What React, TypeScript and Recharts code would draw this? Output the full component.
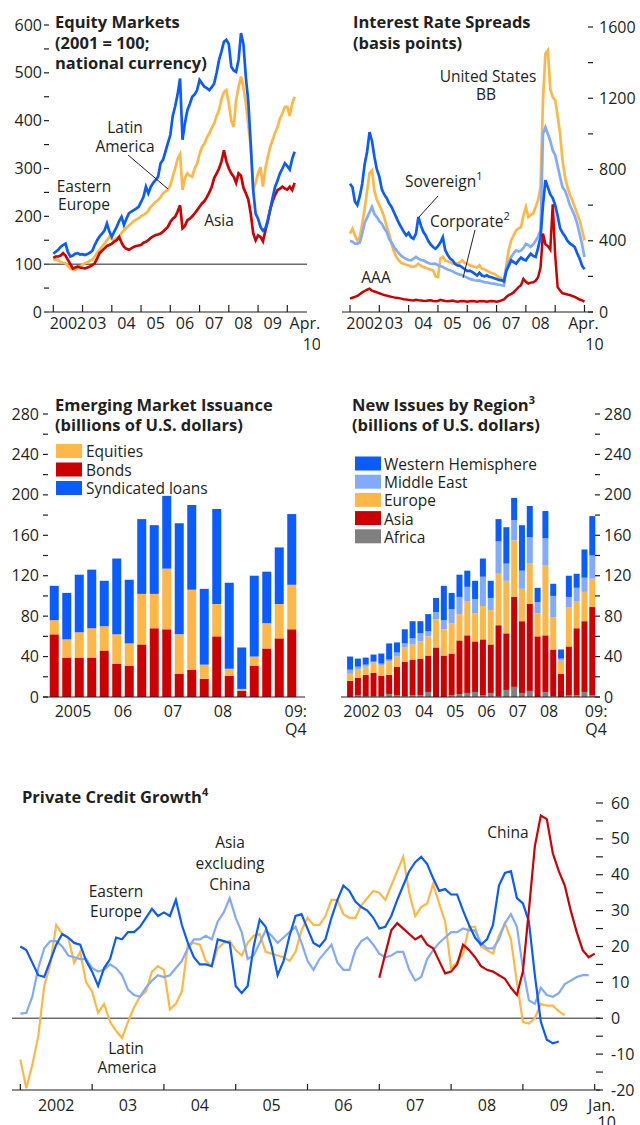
import React from 'react'
import { LineChart, Line, BarChart, Bar, XAxis, YAxis, ReferenceLine } from 'recharts'

const BLUE = '#0a5cff'
const LIGHT_BLUE = '#82abff'
const ORANGE = '#ffb847'
const RED = '#cc0000'
const GRAY = '#808080'
const INK = '#231f20'
const FONT = '"Open Sans", sans-serif'

// Equity markets, monthly from Jan. 2002 (2001 = 100; national currency)
const equityEasternEurope = [
  122, 126, 130, 136, 140, 143, 125, 116, 118, 122,
  123, 120, 121, 119, 121, 124, 128, 140, 150, 158,
  164, 170, 185, 168, 157, 168, 178, 190, 199, 182,
  195, 206, 210, 213, 216, 220, 230, 241, 262, 248,
  262, 270, 276, 283, 311, 318, 335, 353, 370, 410,
  430, 455, 488, 360, 395, 422, 435, 450, 455, 464,
  485, 478, 471, 468, 464, 470, 478, 500, 527, 545,
  565, 569, 560, 513, 505, 502, 527, 583, 560, 490,
  440, 350, 255, 205, 195, 178, 170, 175, 192, 215,
  240, 262, 275, 290, 300, 311, 305, 298, 320, 335,
]
const equityLatinAmerica = [
  108, 110, 108, 105, 103, 102, 96, 91, 89, 88,
  92, 95, 99, 102, 104, 107, 109, 116, 124, 130,
  137, 143, 150, 157, 152, 150, 155, 157, 165, 171,
  176, 181, 185, 190, 193, 196, 200, 203, 206, 212,
  220, 225, 230, 234, 240, 248, 252, 255, 265, 283,
  300, 320, 330, 255, 280, 290, 285, 283, 300, 310,
  330, 345, 352, 365, 373, 385, 394, 410, 422, 445,
  460, 464, 436, 400, 387, 443, 470, 492, 470, 436,
  390, 345, 255, 270, 290, 303, 262, 300, 324, 345,
  360, 375, 387, 405, 415, 429, 429, 410, 436, 450,
]
const equityAsia = [
  113, 116, 116, 118, 123, 118, 109, 100, 91, 93,
  95, 93, 92, 91, 93, 95, 98, 102, 112, 123,
  128, 133, 138, 140, 143, 147, 150, 157, 145, 136,
  132, 130, 133, 136, 138, 139, 140, 145, 147, 150,
  155, 158, 161, 162, 164, 168, 173, 178, 188, 195,
  199, 210, 223, 175, 180, 192, 195, 200, 206, 213,
  220, 227, 232, 240, 250, 262, 280, 290, 300, 315,
  338, 315, 300, 290, 283, 270, 290, 285, 260, 248,
  235, 206, 165, 150, 160, 157, 148, 170, 190, 215,
  232, 245, 255, 258, 262, 258, 256, 262, 255, 270,
]
const equityYearLabels = ['2002', '03', '04', '05', '06', '07', '08', '09']
const equityYTicks = [0, 50, 100, 150, 200, 250, 300, 350, 400, 450, 500, 550, 600]

// Interest rate spreads, monthly from Jan. 2002 (basis points)
const spreadSovereign = [
  720, 700, 620, 600, 650, 720, 830, 900, 1010, 960,
  870, 800, 760, 690, 660, 640, 610, 590, 560, 530,
  500, 475, 450, 430, 445, 420, 411, 440, 533, 486,
  450, 430, 400, 380, 365, 355, 370, 390, 420, 346,
  320, 300, 290, 270, 262, 260, 250, 240, 230, 232,
  225, 215, 205, 220, 205, 200, 206, 198, 195, 190,
  185, 180, 178, 172, 230, 260, 290, 280, 271, 290,
  305, 295, 290, 310, 327, 315, 309, 360, 420, 600,
  740, 700, 660, 640, 600, 540, 470, 445, 425, 400,
  385, 375, 365, 330, 300, 260, 240,
]
const spreadCorporate = [
  400, 395, 384, 384, 390, 440, 500, 530, 560, 590,
  550, 533, 510, 496, 470, 450, 410, 390, 365, 346,
  330, 315, 305, 298, 292, 290, 300, 309, 300, 292,
  290, 282, 275, 271, 270, 271, 262, 258, 253, 245,
  238, 234, 228, 220, 215, 210, 206, 200, 192, 186,
  182, 178, 176, 178, 172, 168, 166, 163, 160, 159,
  156, 153, 150, 148, 250, 280, 309, 330, 346, 340,
  346, 360, 383, 375, 365, 380, 400, 421, 458, 1000,
  1038, 1000, 960, 907, 880, 820, 758, 700, 683, 645,
  600, 571, 540, 496, 440, 380, 309,
]
const spreadBB = [
  440, 468, 430, 402, 420, 496, 580, 680, 780, 795,
  680, 630, 600, 571, 533, 480, 440, 383, 340, 309,
  290, 275, 271, 265, 262, 255, 253, 260, 271, 260,
  253, 248, 243, 238, 234, 200, 196, 300, 309, 290,
  285, 280, 271, 275, 271, 280, 290, 275, 271, 262,
  258, 253, 250, 262, 243, 240, 232, 225, 218, 215,
  205, 195, 187, 178, 260, 350, 402, 430, 458, 470,
  477, 540, 589, 533, 545, 552, 590, 627, 702, 1188,
  1450, 1469, 1250, 1207, 1190, 1100, 1001, 851, 760, 702,
  660, 627, 590, 552, 515, 460, 402,
]
const spreadAAA = [
  75, 80, 85, 90, 100, 110, 118, 125, 131, 120,
  115, 110, 105, 100, 95, 92, 88, 85, 82, 80,
  78, 75, 72, 70, 68, 66, 65, 68, 66, 65,
  63, 62, 64, 66, 62, 60, 62, 68, 65, 62,
  60, 62, 64, 60, 58, 60, 62, 60, 58, 60,
  62, 60, 58, 60, 62, 60, 58, 60, 62, 60,
  58, 60, 65, 70, 84, 95, 102, 110, 125, 140,
  150, 186, 170, 160, 165, 167, 175, 195, 250, 440,
  380, 370, 350, 605, 320, 140, 121, 105, 102, 98,
  95, 90, 85, 78, 70, 65, 58,
]
const spreadYearLabels = ['2002', '03', '04', '05', '06', '07', '08']
const spreadYTicks = [0, 200, 400, 600, 800, 1000, 1200, 1400, 1600]

// Emerging market issuance, quarterly (billions of U.S. dollars)
const issuanceQuarters = [
  '2005:Q1', '2005:Q2', '2005:Q3', '2005:Q4',
  '2006:Q1', '2006:Q2', '2006:Q3', '2006:Q4',
  '2007:Q1', '2007:Q2', '2007:Q3', '2007:Q4',
  '2008:Q1', '2008:Q2', '2008:Q3', '2008:Q4',
  '2009:Q1', '2009:Q2', '2009:Q3', '2009:Q4',
]
const issuanceBonds = [62, 39, 39, 39, 46, 33, 31, 52, 68, 67, 23, 27, 18, 60, 21, 6, 31, 48, 58, 67]
const issuanceEquities = [14, 18, 25, 29, 24, 29, 22, 50, 34, 60, 39, 79, 14, 32, 7, 2, 9, 25, 34, 44]
const issuanceLoans = [34, 46, 57, 58, 45, 75, 63, 74, 68, 72, 110, 84, 75, 94, 85, 41, 80, 51, 56, 70]
const issuanceYearLabels: Record<string, string> = {
  '2005:Q2': '2005', '2006:Q2': '06', '2007:Q2': '07', '2008:Q2': '08',
}

// New issues by region, quarterly (billions of U.S. dollars)
const regionQuarters = [
  '2002:Q1', '2002:Q2', '2002:Q3', '2002:Q4',
  '2003:Q1', '2003:Q2', '2003:Q3', '2003:Q4',
  '2004:Q1', '2004:Q2', '2004:Q3', '2004:Q4',
  '2005:Q1', '2005:Q2', '2005:Q3', '2005:Q4',
  '2006:Q1', '2006:Q2', '2006:Q3', '2006:Q4',
  '2007:Q1', '2007:Q2', '2007:Q3', '2007:Q4',
  '2008:Q1', '2008:Q2', '2008:Q3', '2008:Q4',
  '2009:Q1', '2009:Q2', '2009:Q3', '2009:Q4',
]
const regionAfrica = [0, 2, 1, 1, 1, 3, 2, 1, 2, 2, 5, 0, 0, 2, 3, 4, 5, 2, 4, 1, 7, 10, 4, 6, 0, 5, 1, 0, 2, 2, 5, 2]
const regionAsia = [16, 17, 21, 23, 20, 19, 28, 34, 35, 36, 36, 49, 41, 41, 53, 57, 50, 55, 48, 70, 56, 89, 71, 86, 60, 56, 46, 23, 48, 66, 70, 87]
const regionEurope = [7, 8, 8, 10, 10, 13, 10, 14, 15, 17, 19, 28, 26, 30, 26, 34, 28, 33, 34, 51, 52, 56, 32, 40, 23, 69, 32, 13, 39, 27, 29, 28]
const regionMiddleEast = [4, 3, 2, 1, 2, 2, 4, 4, 6, 8, 5, 7, 9, 14, 17, 14, 14, 29, 12, 32, 17, 20, 18, 26, 11, 27, 21, 2, 10, 13, 14, 23]
const regionWestern = [13, 8, 7, 7, 10, 16, 10, 14, 17, 12, 17, 14, 34, 16, 22, 16, 18, 18, 17, 22, 36, 22, 45, 31, 14, 27, 12, 9, 21, 14, 28, 39]
const regionYearLabels: Record<string, string> = {
  '2002:Q2': '2002', '2003:Q2': '03', '2004:Q2': '04', '2005:Q2': '05',
  '2006:Q2': '06', '2007:Q2': '07', '2008:Q2': '08',
}
const issueYTicks = [0, 20, 40, 60, 80, 100, 120, 140, 160, 180, 200, 220, 240, 260, 280]

// Private credit growth, monthly from Jan. 2002 (percent)
const creditEasternEurope = [
  20, 19, 15.5, 12, 11.5, 16, 20.5, 23.5, 22.5, 21,
  20.5, 16, 13, 9, 14, 16.5, 22.5, 22, 24, 24,
  25.5, 28, 30.5, 28.5, 29.5, 28.5, 33, 26, 21, 17,
  15, 15, 14.5, 22, 21.5, 21, 9, 7, 9, 20,
  27.5, 25.5, 20, 12, 16, 23, 28.5, 29, 25, 21,
  20, 22, 28, 33, 37, 35.5, 32.5, 31, 30, 28,
  25, 25.5, 28.5, 33, 37, 41, 43.5, 45, 43, 39,
  35.5, 36, 34.5, 34.5, 30, 26, 22.5, 20.5, 22, 26,
  37, 40.5, 41, 33.5, 32, 27, 12, -1, -6, -7,
  -6.5,
]
const creditLatinAmerica = [
  -11.5, -19.5, -13, -5, 9, 15, 26, 23.5, 22.5, 15.5,
  18.5, 10, 7.5, 1.5, 4, -1, -3.5, -5.5, -1, 3,
  6, 7.5, 13, 14.5, 13.5, 2.5, 4, 7.5, 20.5, 21,
  20.5, 16, 14.5, 19.5, 21, 21.5, 19, 17.5, 21, 23,
  23.5, 18.5, 18, 17.5, 17, 16, 18.5, 24.5, 28, 26,
  26, 28.5, 33, 33, 29, 28, 28, 31.5, 33.5, 35.5,
  35, 33, 37, 41, 45, 35, 28.5, 31, 32, 37.5,
  32, 27, 14, 15.5, 18, 25.5, 25.5, 20, 19, 18,
  23, 26.5, 22, 10, -1, -1.5, 0, 4, 3.5, 3.5,
  2, 0.8,
]
const creditAsiaExChina = [
  1.3, 1.5, 6, 14, 19.5, 21.5, 21.5, 20, 17.5, 17,
  16.5, 16.5, 14, 13, 13.5, 15, 14, 12, 8, 6.5,
  6, 8.5, 10.5, 12, 11.5, 12, 14, 16, 19.5, 22,
  22, 23, 22, 27, 29.5, 33.5, 28, 24, 16.5, 17.5,
  21, 24.5, 23, 21, 22.5, 24, 25.5, 21, 16, 13.5,
  16.5, 18.5, 20.5, 15.5, 13.5, 13.5, 19, 21.5, 22.5, 20.5,
  18, 17, 17.5, 18.5, 18.5, 13.5, 10.5, 11.5, 16.5, 19,
  21, 22.5, 24, 24, 25, 24.5, 24.5, 21, 19.5, 19.5,
  22, 26.5, 29, 25.5, 14, 5, 4, 8.5, 6.5, 6,
  7, 9.5, 10.5, 11.5, 12, 12,
]
// China starts Jan. 2007
const creditChina = [
  11.3, 18, 24.5, 26.5, 25, 23.5, 22, 23, 20.5, 19.5,
  16, 12.5, 13, 15, 20.5, 19, 17, 14.5, 13.5, 13,
  12, 11, 8.5, 6.5, 13, 30, 48, 56.5, 55.5, 46,
  41, 37, 30, 24, 19, 17, 18,
]
const CHINA_START = 60
const creditYearLabels = ['2002', '03', '04', '05', '06', '07', '08', '09']
const creditYTicks = [-20, -15, -10, -5, 0, 5, 10, 15, 20, 25, 30, 35, 40, 45, 50, 55, 60]

const yearBounds = [2002, 2003, 2004, 2005, 2006, 2007, 2008, 2009, 2010]

const equityRows = equityEasternEurope.map((v, i) => ({
  t: 2002 + i / 12,
  ee: v,
  la: equityLatinAmerica[i],
  asia: equityAsia[i],
}))

const spreadRows = spreadSovereign.map((v, i) => ({
  t: 2002 + i / 12,
  sov: v,
  corp: spreadCorporate[i],
  bb: spreadBB[i],
  aaa: spreadAAA[i],
}))

const issuanceRows = issuanceQuarters.map((q, i) => ({
  q,
  bonds: issuanceBonds[i],
  equities: issuanceEquities[i],
  loans: issuanceLoans[i],
}))

const regionRows = regionQuarters.map((q, i) => ({
  q,
  africa: regionAfrica[i],
  asia: regionAsia[i],
  europe: regionEurope[i],
  me: regionMiddleEast[i],
  wh: regionWestern[i],
}))

const creditRows = Array.from({ length: CHINA_START + creditChina.length }, (_, i) => ({
  t: 2002 + i / 12,
  ee: i < creditEasternEurope.length ? creditEasternEurope[i] : null,
  la: i < creditLatinAmerica.length ? creditLatinAmerica[i] : null,
  asia: i < creditAsiaExChina.length ? creditAsiaExChina[i] : null,
  china: i >= CHINA_START ? creditChina[i - CHINA_START] : null,
}))

const tickText = { fontFamily: FONT, fontSize: 16, fill: INK }

function yTick(side: 'left' | 'right', inLen: number, outLen: number, gap: number, every: number) {
  return (props: any) => {
    const { x, y, payload } = props
    const v = payload.value as number
    const s = side === 'left' ? 1 : -1
    const showLabel = every > 0 && Math.abs(v % every) < 1e-6
    return (
      <g>
        <line x1={x - s * outLen} x2={x + s * inLen} y1={y} y2={y} stroke={INK} strokeWidth={1.2} />
        {showLabel && (
          <text
            x={x - s * (outLen + gap)}
            y={y + 5.5}
            textAnchor={side === 'left' ? 'end' : 'start'}
            {...tickText}
          >
            {v}
          </text>
        )}
      </g>
    )
  }
}

type EndLabel = { at: number; lines: string[]; dx: number[] }

function timeTicks(labels: string[], end: EndLabel) {
  const all = [...yearBounds, ...labels.map((_, k) => 2002.5 + k), end.at]
  return Array.from(new Set(all)).sort((a, b) => a - b)
}

function timeTick(labels: string[], end: EndLabel, len: number, dy: number, dy2: number) {
  return (props: any) => {
    const { x, y, payload } = props
    const v = payload.value as number
    const k = v - 2002.5
    return (
      <g>
        {Number.isInteger(v) && <line x1={x} x2={x} y1={y} y2={y - len} stroke={INK} strokeWidth={1.2} />}
        {Number.isInteger(k) && labels[k] && (
          <text x={x} y={y + dy} textAnchor="middle" {...tickText}>
            {labels[k]}
          </text>
        )}
        {v === end.at && (
          <g>
            <text x={x + end.dx[0]} y={y + dy} textAnchor="middle" {...tickText}>
              {end.lines[0]}
            </text>
            <text x={x + end.dx[1]} y={y + dy2} textAnchor="middle" {...tickText}>
              {end.lines[1]}
            </text>
          </g>
        )}
      </g>
    )
  }
}

function quarterTick(yearLabels: Record<string, string>, last: string, half: number) {
  return (props: any) => {
    const { x, y, payload } = props
    const v = payload.value as string
    if (yearLabels[v]) {
      return (
        <text x={x + half} y={y + 19.5} textAnchor="middle" {...tickText}>
          {yearLabels[v]}
        </text>
      )
    }
    if (v === last) {
      return (
        <g>
          <text x={x + 4} y={y + 19.5} textAnchor="middle" {...tickText}>09:</text>
          <text x={x + 4} y={y + 38} textAnchor="middle" {...tickText}>Q4</text>
        </g>
      )
    }
    return <g />
  }
}

const equityEnd = { at: 2010.6, lines: ['Apr.', '10'], dx: [0, 7] }
const spreadEnd = { at: 2010, lines: ['Apr.', '10'], dx: [-1, 10] }
const creditEnd = { at: 2010, lines: ['Jan.', '10'], dx: [7, 12] }

const axisLine = { stroke: INK, strokeWidth: 1.2 }
const label = { fontFamily: FONT, fontSize: 15.5, fill: INK }
const title = { fontFamily: FONT, fontSize: 16.5, fontWeight: 700, fill: INK }

function Sup({ n }: { n: string }) {
  return (
    <tspan fontSize={11} dy={-7}>
      {n}
    </tspan>
  )
}

function Annotations() {
  return (
    <svg width={640} height={1125} style={{ position: 'absolute', left: 0, top: 0, pointerEvents: 'none' }}>
      {/* Equity markets */}
      <text x={55} y={28} {...title}>Equity Markets</text>
      <text x={55} y={48.5} {...title}>(2001 = 100;</text>
      <text x={55} y={69} {...title}>national currency)</text>
      <text x={125} y={132.5} textAnchor="middle" {...label}>Latin</text>
      <text x={125} y={151.5} textAnchor="middle" {...label}>America</text>
      <line x1={128} y1={155} x2={168} y2={189} stroke={INK} strokeWidth={1} />
      <text x={84} y={191.5} textAnchor="middle" {...label}>Eastern</text>
      <text x={84} y={210} textAnchor="middle" {...label}>Europe</text>
      <text x={219} y={226} textAnchor="middle" {...label}>Asia</text>

      {/* Interest rate spreads */}
      <text x={353} y={28} {...title}>Interest Rate Spreads</text>
      <text x={353} y={48.5} {...title}>(basis points)</text>
      <text x={488} y={81.5} textAnchor="middle" {...label}>United States</text>
      <text x={486} y={100} textAnchor="middle" {...label}>BB</text>
      <text x={405} y={187} {...label}>
        Sovereign<Sup n="1" />
      </text>
      <line x1={438} y1={196} x2={419} y2={217} stroke={INK} strokeWidth={1} />
      <text x={430} y={226.5} {...label}>
        Corporate<Sup n="2" />
      </text>
      <line x1={475} y1={230} x2={463} y2={278} stroke={INK} strokeWidth={1} />
      <text x={376} y={283} textAnchor="middle" {...label}>AAA</text>

      {/* Emerging market issuance */}
      <text x={55} y={411} {...title}>Emerging Market Issuance</text>
      <text x={55} y={430.5} {...title}>(billions of U.S. dollars)</text>
      <rect x={56} y={444} width={26} height={14} fill={ORANGE} />
      <text x={86} y={457} {...label}>Equities</text>
      <rect x={56} y={462.5} width={26} height={14} fill={RED} />
      <text x={86} y={475.5} {...label}>Bonds</text>
      <rect x={56} y={481} width={26} height={14} fill={BLUE} />
      <text x={86} y={494} {...label}>Syndicated loans</text>

      {/* New issues by region */}
      <text x={352} y={411} {...title}>
        New Issues by Region<Sup n="3" />
      </text>
      <text x={352} y={430.5} {...title}>(billions of U.S. dollars)</text>
      <rect x={355} y={456.5} width={26} height={14} fill={BLUE} />
      <text x={384} y={470} {...label}>Western Hemisphere</text>
      <rect x={355} y={474.7} width={26} height={14} fill={LIGHT_BLUE} />
      <text x={384} y={488.2} {...label}>Middle East</text>
      <rect x={355} y={492.9} width={26} height={14} fill={ORANGE} />
      <text x={384} y={506.4} {...label}>Europe</text>
      <rect x={355} y={511.1} width={26} height={14} fill={RED} />
      <text x={384} y={524.6} {...label}>Asia</text>
      <rect x={355} y={529.3} width={26} height={14} fill={GRAY} />
      <text x={384} y={542.8} {...label}>Africa</text>

      {/* Private credit growth */}
      <text x={22} y={803} {...title}>
        Private Credit Growth<Sup n="4" />
      </text>
      <text x={230} y={848} textAnchor="middle" {...label}>Asia</text>
      <text x={230} y={869} textAnchor="middle" {...label}>excluding</text>
      <text x={230} y={890} textAnchor="middle" {...label}>China</text>
      <text x={116} y={897} textAnchor="middle" {...label}>Eastern</text>
      <text x={116} y={917} textAnchor="middle" {...label}>Europe</text>
      <text x={126} y={1054} textAnchor="middle" {...label}>Latin</text>
      <text x={127} y={1073} textAnchor="middle" {...label}>America</text>
      <text x={508} y={838} textAnchor="middle" {...label}>China</text>
    </svg>
  )
}

export default function App() {
  return (
    <div style={{ position: 'absolute', left: 0, top: 0, width: 640, height: 1125, background: '#fff', overflow: 'hidden' }}>
      <div style={{ position: 'absolute', left: 0, top: 0 }}>
        <LineChart width={320} height={360} data={equityRows} margin={{ top: 25, right: 0, bottom: 0, left: 0 }}>
          <XAxis
            type="number"
            dataKey="t"
            domain={[2001.853, 2010.673]}
            allowDataOverflow
            ticks={timeTicks(equityYearLabels, equityEnd)}
            interval={0}
            height={48}
            tickSize={0}
            tickMargin={0}
            tickLine={false}
            axisLine={axisLine}
            tick={timeTick(equityYearLabels, equityEnd, 7, 16.5, 38)}
          />
          <YAxis yAxisId="l" orientation="left" width={49} domain={[0, 600]} ticks={equityYTicks} interval={0}
            axisLine={false} tickLine={false} tickSize={0} tickMargin={0} tick={yTick('left', 0, 5, 2, 100)} />
          <YAxis yAxisId="r" orientation="right" width={13} domain={[0, 600]} ticks={equityYTicks} interval={0}
            axisLine={false} tickLine={false} tickSize={0} tickMargin={0} tick={yTick('right', 5, 0, 0, 0)} />
          <ReferenceLine yAxisId="l" y={100} stroke={INK} strokeWidth={1} />
          <Line yAxisId="l" dataKey="la" stroke={ORANGE} strokeWidth={2.7} dot={false} isAnimationActive={false} />
          <Line yAxisId="l" dataKey="asia" stroke={RED} strokeWidth={2.7} dot={false} isAnimationActive={false} />
          <Line yAxisId="l" dataKey="ee" stroke={BLUE} strokeWidth={2.7} dot={false} isAnimationActive={false} />
        </LineChart>
      </div>

      <div style={{ position: 'absolute', left: 320, top: 0 }}>
        <LineChart width={320} height={360} data={spreadRows} margin={{ top: 27, right: 0, bottom: 0, left: 0 }}>
          <XAxis
            type="number"
            dataKey="t"
            domain={[2001.727, 2010.29]}
            allowDataOverflow
            ticks={timeTicks(spreadYearLabels, spreadEnd)}
            interval={0}
            height={48}
            tickSize={0}
            tickMargin={0}
            tickLine={false}
            axisLine={axisLine}
            tick={timeTick(spreadYearLabels, spreadEnd, 7, 16.5, 38)}
          />
          <YAxis yAxisId="l" orientation="left" width={22} domain={[0, 1600]} ticks={spreadYTicks} interval={0}
            axisLine={false} tickLine={false} tickSize={0} tickMargin={0} tick={yTick('left', 5, 0, 0, 0)} />
          <YAxis yAxisId="r" orientation="right" width={47} domain={[0, 1600]} ticks={spreadYTicks} interval={0}
            axisLine={false} tickLine={false} tickSize={0} tickMargin={0} tick={yTick('right', 5, 0, 6, 400)} />
          <Line yAxisId="r" dataKey="bb" stroke={ORANGE} strokeWidth={2.7} dot={false} isAnimationActive={false} />
          <Line yAxisId="r" dataKey="corp" stroke={LIGHT_BLUE} strokeWidth={2.7} dot={false} isAnimationActive={false} />
          <Line yAxisId="r" dataKey="sov" stroke={BLUE} strokeWidth={2.7} dot={false} isAnimationActive={false} />
          <Line yAxisId="r" dataKey="aaa" stroke={RED} strokeWidth={2.5} dot={false} isAnimationActive={false} />
        </LineChart>
      </div>

      <div style={{ position: 'absolute', left: 0, top: 390 }}>
        <BarChart width={320} height={360} data={issuanceRows} barCategoryGap="14%" margin={{ top: 24, right: 0, bottom: 0, left: 0 }}>
          <XAxis dataKey="q" interval={0} height={53} padding={{ left: 5, right: 7 }} tickSize={0} tickMargin={0}
            tickLine={false} axisLine={axisLine} tick={quarterTick(issuanceYearLabels, '2009:Q4', 6.25)} />
          <YAxis yAxisId="l" orientation="left" width={43} domain={[0, 280]} ticks={issueYTicks} interval={0}
            axisLine={false} tickLine={false} tickSize={0} tickMargin={0} tick={yTick('left', 5, 0, 4, 40)} />
          <YAxis yAxisId="r" orientation="right" width={15} domain={[0, 280]} ticks={issueYTicks} interval={0}
            axisLine={false} tickLine={false} tickSize={0} tickMargin={0} tick={yTick('right', 5, 0, 0, 0)} />
          <Bar yAxisId="l" dataKey="bonds" stackId="s" fill={RED} isAnimationActive={false} />
          <Bar yAxisId="l" dataKey="equities" stackId="s" fill={ORANGE} isAnimationActive={false} />
          <Bar yAxisId="l" dataKey="loans" stackId="s" fill={BLUE} isAnimationActive={false} />
        </BarChart>
      </div>

      <div style={{ position: 'absolute', left: 320, top: 390 }}>
        <BarChart width={320} height={360} data={regionRows} barCategoryGap="14%" margin={{ top: 24, right: 0, bottom: 0, left: 0 }}>
          <XAxis dataKey="q" interval={0} height={53} padding={{ left: 5, right: 4 }} tickSize={0} tickMargin={0}
            tickLine={false} axisLine={axisLine} tick={quarterTick(regionYearLabels, '2009:Q4', 3.9)} />
          <YAxis yAxisId="l" orientation="left" width={21} domain={[0, 280]} ticks={issueYTicks} interval={0}
            axisLine={false} tickLine={false} tickSize={0} tickMargin={0} tick={yTick('left', 5, 0, 0, 0)} />
          <YAxis yAxisId="r" orientation="right" width={40} domain={[0, 280]} ticks={issueYTicks} interval={0}
            axisLine={false} tickLine={false} tickSize={0} tickMargin={0} tick={yTick('right', 5, 0, 4, 40)} />
          <Bar yAxisId="r" dataKey="africa" stackId="s" fill={GRAY} isAnimationActive={false} />
          <Bar yAxisId="r" dataKey="asia" stackId="s" fill={RED} isAnimationActive={false} />
          <Bar yAxisId="r" dataKey="europe" stackId="s" fill={ORANGE} isAnimationActive={false} />
          <Bar yAxisId="r" dataKey="me" stackId="s" fill={LIGHT_BLUE} isAnimationActive={false} />
          <Bar yAxisId="r" dataKey="wh" stackId="s" fill={BLUE} isAnimationActive={false} />
        </BarChart>
      </div>

      <div style={{ position: 'absolute', left: 0, top: 780 }}>
        <LineChart width={640} height={345} data={creditRows} margin={{ top: 23, right: 0, bottom: 0, left: 0 }}>
          <XAxis
            type="number"
            dataKey="t"
            domain={[2001.884, 2010.074]}
            allowDataOverflow
            ticks={timeTicks(creditYearLabels, creditEnd)}
            interval={0}
            height={35}
            tickSize={0}
            tickMargin={0}
            tickLine={false}
            axisLine={axisLine}
            tick={timeTick(creditYearLabels, creditEnd, 6, 20.5, 38)}
          />
          <YAxis yAxisId="l" orientation="left" width={12} domain={[-20, 60]} ticks={creditYTicks} interval={0}
            axisLine={false} tickLine={false} tickSize={0} tickMargin={0} tick={yTick('left', 6, 2, 0, 0)} />
          <YAxis yAxisId="r" orientation="right" width={40} domain={[-20, 60]} ticks={creditYTicks} interval={0}
            axisLine={false} tickLine={false} tickSize={0} tickMargin={0} tick={yTick('right', 4, 3, 8, 10)} />
          <ReferenceLine yAxisId="r" y={0} stroke="#6d6d6d" strokeWidth={1.5} />
          <Line yAxisId="r" dataKey="la" stroke={ORANGE} strokeWidth={2.2} dot={false} isAnimationActive={false} />
          <Line yAxisId="r" dataKey="asia" stroke={LIGHT_BLUE} strokeWidth={2.2} dot={false} isAnimationActive={false} />
          <Line yAxisId="r" dataKey="ee" stroke={BLUE} strokeWidth={2.2} dot={false} isAnimationActive={false} />
          <Line yAxisId="r" dataKey="china" stroke={RED} strokeWidth={2.2} dot={false} isAnimationActive={false} />
        </LineChart>
      </div>

      <Annotations />
    </div>
  )
}
